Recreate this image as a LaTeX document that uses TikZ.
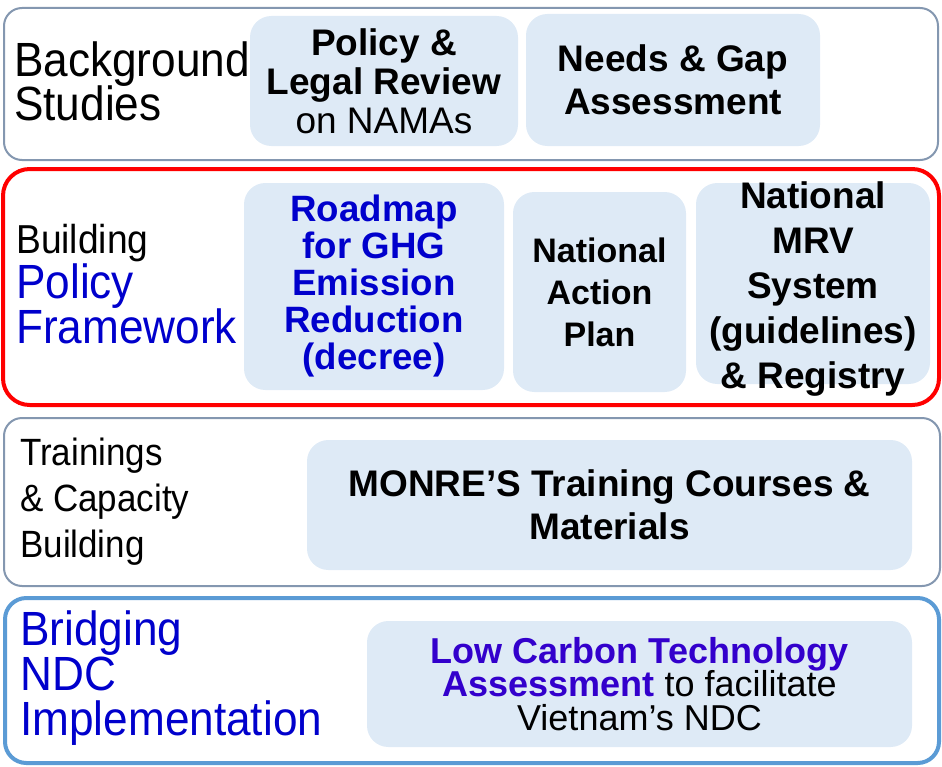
\documentclass[tikz,border=0pt]{standalone}
\usepackage{fontspec}
\setmainfont{Liberation Sans}
\newfontfamily\narrowfont[FakeStretch=0.92]{Liberation Sans}
\usetikzlibrary{positioning}

\definecolor{rowgray}{HTML}{8497B0}
\definecolor{boxfill}{HTML}{DEEAF6}
\definecolor{ndcblue}{HTML}{5B9BD5}
\definecolor{textblue}{HTML}{0000CC}
\definecolor{lctblue}{HTML}{3300CC}

\begin{document}
\lineskiplimit=-100pt
\begin{tikzpicture}[
        x=0.75pt, y=-0.75pt,
        row/.style={draw=rowgray, line width=1.5pt, rectangle, rounded corners=13.5pt, inner sep=0pt},
        item/.style={fill=boxfill, rectangle, rounded corners=16pt, inner sep=0pt, align=center},
        itemtext/.style={inner sep=0pt, align=center},
        side/.style={anchor=west, align=left, inner sep=0pt}
    ]
    \useasboundingbox (0,0) rectangle (942,767);

    % the four rows
    \node[row, minimum width=700.5pt, minimum height=114pt] (Bg) at (471,84) {};
    \node[row, draw=red, line width=3pt, rounded corners=20pt, minimum width=702pt, minimum height=177pt] (Pf) at (471,287) {};
    \node[row, minimum width=702pt, minimum height=126pt] (Tr) at (472,502) {};
    \node[row, draw=ndcblue, line width=3pt, rounded corners=16pt, minimum width=700.5pt, minimum height=123.75pt] (Ndc) at (472,680.5) {};

    % row labels
    \node[side, font=\narrowfont\fontsize{36pt}{33pt}\selectfont] (BgLabel) at (14,81) {Background\\Studies};
    \node[side, font=\narrowfont\fontsize{36pt}{33.5pt}\selectfont] (PfLabel) at (16,284) {{\fontsize{30.3pt}{33.5pt}\selectfont Building}\\\textcolor{textblue}{Policy}\\\textcolor{textblue}{Framework}};
    \node[side, font=\narrowfont\fontsize{28.5pt}{34.5pt}\selectfont] (TrLabel) at (20,502) {Trainings\\\& Capacity\\Building};
    \node[side, font=\narrowfont\fontsize{36pt}{33.5pt}\selectfont, text=textblue] (NdcLabel) at (20,678) {Bridging\\NDC\\Implementation};

    % background studies
    \node[item, minimum width=201pt, minimum height=97.5pt, font=\bfseries\fontsize{27.75pt}{29.25pt}\selectfont] (Legal) at (384,81) {Policy \&\\Legal Review\\\mdseries on NAMAs};
    \node[item, minimum width=220.5pt, minimum height=99pt, font=\bfseries\fontsize{27.75pt}{32pt}\selectfont] (Gap) at (673,80) {Needs \& Gap\\Assessment};

    % policy framework
    \node[item, minimum width=195pt, minimum height=155.25pt, text=textblue, font=\bfseries\fontsize{27.5pt}{27.75pt}\selectfont] (Roadmap) at (374,286.5) {Roadmap\\for GHG\\Emission\\Reduction\\(decree)};
    \node[item, minimum width=129.75pt, minimum height=150pt, font=\bfseries\fontsize{25.5pt}{31.5pt}\selectfont] (Nap) at (599.5,292) {National\\Action\\Plan};
    \node[item, minimum width=175.5pt, minimum height=150.75pt] (Mrv) at (813,283.5) {};
    \node[itemtext, font=\bfseries\fontsize{27.75pt}{33.75pt}\selectfont] (MrvText) at (813,289) {National\\MRV\\System\\(guidelines)\\\& Registry};

    % trainings
    \node[item, minimum width=453.75pt, minimum height=97.5pt, font=\bfseries\fontsize{27.75pt}{32.25pt}\selectfont] (Monre) at (609.5,505) {MONRE’S Training Courses \&\\Materials};

    % NDC implementation
    \node[item, minimum width=408.75pt, minimum height=94.5pt, font=\fontsize{27pt}{25pt}\selectfont] (Lcta) at (639.5,684) {\textcolor{lctblue}{\bfseries Low Carbon Technology}\\\textcolor{lctblue}{\bfseries Assessment} to facilitate\\Vietnam’s NDC};

    \end{tikzpicture}
\end{document}
